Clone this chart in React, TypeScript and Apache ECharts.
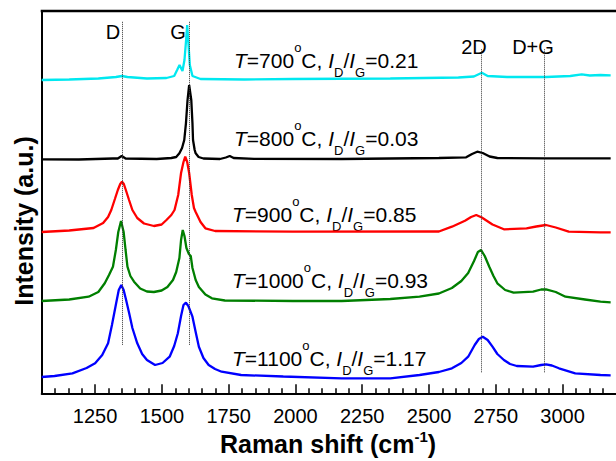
import React, { useEffect, useRef } from 'react';
import * as echarts from 'echarts';

const FF = 'Liberation Sans, Arial, sans-serif';

const xTicks = [1250, 1500, 1750, 2000, 2250, 2500, 2750, 3000];
const xMinorTicks = [1100, 1150, 1200, 1300, 1350, 1400, 1450, 1550, 1600, 1650, 1700, 1800, 1850, 1900, 1950, 2050, 2100, 2150, 2200, 2300, 2350, 2400, 2450, 2550, 2600, 2650, 2700, 2800, 2850, 2900, 2950, 3050, 3100, 3150];

const temperatures = [700, 800, 900, 1000, 1100];
const ratios = ['0.21', '0.03', '0.85', '0.93', '1.17'];
const colors = ['#00e8f0', '#000000', '#ff0000', '#007f00', '#0000ff'];

const bandNames = ['D', 'G', '2D', 'D+G'];
const bandPositions = [1350, 1603, 2697, 2933];

const s700 = [[1050,313.3],[1153,313.8],[1262,314.8],[1328,316.3],[1350,317.3],[1371,316.3],[1444,314.8],[1517,315.3],[1546,317.3],[1557,323.3],[1566,328.3],[1577,322.3],[1584.5,333.3],[1590,351.3],[1594.7,368.3],[1599,351.3],[1604.5,328.3],[1614.4,317.3],[1644.6,314.3],[1808.5,313.8],[1990.7,314.3],[2355,314.8],[2610,315.8],[2668,316.8],[2697.6,320.6],[2719.5,317.3],[2792.4,316.3],[2938,316.3],[3029,317.3],[3071.8,319],[3102,317.8],[3142,318.3],[3180,318]];

const s800 = [[1050,234],[1189,233.8],[1316.7,234.8],[1335,234.8],[1349.5,237.3],[1364,234.8],[1480.6,234.3],[1535.3,235.3],[1553.5,236.3],[1565.5,240],[1575.4,245.3],[1583.7,253.3],[1590,270],[1596,293.3],[1602,308.3],[1610,293.3],[1614.4,270],[1616.5,253.3],[1622.7,243.3],[1626.4,240],[1637.3,236.3],[1655.5,234.8],[1717.5,234.3],[1739.3,235.8],[1754,237.3],[1768.5,235.3],[1845,234.5],[2173,234.3],[2537,235.3],[2639,236],[2661,239.3],[2680.4,241.6],[2701,240.3],[2726.8,236.8],[2755.8,235.3],[2938,235],[3142,235],[3180,235]];

const s900 = [[1050,161.3],[1153,162.8],[1244,165.3],[1280,170.3],[1298.5,176.3],[1310.5,183.3],[1324,194.3],[1335,203.3],[1344,209.3],[1350.6,211.6],[1357.5,209.3],[1365,203.3],[1377,193.3],[1389.5,183.3],[1407.8,175.3],[1433,169.8],[1470,167.3],[1499,168.8],[1517,173.3],[1535.3,178.3],[1547.3,183.3],[1561,198.3],[1571.7,220.3],[1580.8,231.3],[1587.4,236.6],[1594.7,231.3],[1602,220.3],[1611.8,198.3],[1620,185.3],[1626.4,181.3],[1644.6,171.3],[1662.8,165],[1699,162.3],[1990.7,161.6],[2537,161.8],[2585.7,166.6],[2634.6,172.6],[2657.6,176.3],[2676.8,178.3],[2697.6,175.8],[2737.6,168.8],[2780.3,164],[2865,165],[2901.5,166.8],[2938,168.3],[2974.5,165.8],[3023,161.6],[3142,161],[3180,161]];

const s1000 = [[1050,92.3],[1153,93.8],[1225.6,96.6],[1262,101.3],[1286,110],[1302,118.3],[1316.7,126.6],[1327.6,143.3],[1336.7,161.3],[1347,172.3],[1356.8,161.3],[1364,143.3],[1371,126.6],[1382,117.3],[1395.7,111.6],[1418.7,104.8],[1444,101.8],[1470,101.3],[1499,102.8],[1520.7,106.3],[1541.5,113.3],[1553.5,121.3],[1565.5,135.3],[1571.7,153.3],[1578,163.3],[1584.5,157.3],[1591.8,145.3],[1601,139.3],[1608,137.3],[1614.4,125.3],[1626.4,113.3],[1638.4,106.3],[1662.8,98.8],[1687.2,95],[1735.7,92.8],[1990.7,92.3],[2173,92.3],[2355,94.3],[2464.4,96.6],[2537,99.8],[2585.7,105.3],[2621,112.3],[2646.6,120.3],[2668.5,132.3],[2683,141.3],[2695,143.3],[2708.5,137.3],[2725.6,126.6],[2741.3,117.3],[2755.8,110],[2785,103.3],[2816.7,100.6],[2889.6,101.6],[2919.8,103.8],[2938,104],[2974.5,101.3],[3010.9,96.6],[3083.8,93.8],[3142,91.6],[3180,91]];

const s1100 = [[1050,16.3],[1098,17.3],[1165,20],[1218,25.3],[1250,30],[1276.6,38.3],[1298.5,50],[1313,68.3],[1328.7,90],[1338.5,103.3],[1348,108.3],[1356.8,103.3],[1366,93.3],[1377.5,80],[1389.5,65.3],[1407.8,50],[1426,39.3],[1444,33.3],[1474.4,28.3],[1502.5,30.3],[1529,36.6],[1546,47.3],[1559.7,60],[1571.7,77.3],[1580.8,88.3],[1590,90.6],[1599,87.3],[1614.4,76.6],[1626.4,61.3],[1638.4,46.6],[1655.5,35.3],[1675,28.3],[1699,24.3],[1723.6,21.6],[1796.5,18.3],[1954.3,16.8],[2173,15],[2355,15],[2464.4,18.3],[2537,21.3],[2585.7,25],[2621,30.3],[2646.6,36.6],[2671,48.3],[2686.6,54.3],[2701.2,56.6],[2719.5,53.3],[2737.6,46.6],[2755.8,39.3],[2780.3,33.3],[2803.3,29.3],[2828.7,27.3],[2889.6,26.6],[2919.8,28.3],[2938,29],[2960,27.8],[2986.5,25],[3047.4,20],[3142,18.3],[3180,18]];

const spectra = [s700, s800, s900, s1000, s1100];

const X_MIN = 1050;
const X_MAX = 3200;
const Y_MAX = 382.3;

const annPos = [[234, 60], [234, 138], [232, 214], [232, 280], [232, 358]];
const bandLabelPos = [[113, 32], [178, 32], [474, 47], [533, 47]];

function buildOption() {
  const richAnn = {
    n: { fontSize: 21, fontFamily: FF, lineHeight: 38, fill: '#000' },
    i: { fontSize: 21, fontFamily: FF, fontStyle: 'italic', lineHeight: 38, fill: '#000' },
    sup: { fontSize: 13, fontFamily: FF, lineHeight: 26, verticalAlign: 'top', fill: '#000' },
    sub: { fontSize: 13, fontFamily: FF, lineHeight: 14, verticalAlign: 'bottom', fill: '#000' },
  };
  const graphics: any[] = [];
  // top edge of the plot frame
  graphics.push({
    type: 'line', silent: true, z: 100,
    shape: { x1: 40.7, y1: 11, x2: 620, y2: 11 },
    style: { stroke: '#000', lineWidth: 2.5 },
  });
  temperatures.forEach((t, k) => {
    graphics.push({
      type: 'text', x: annPos[k][0], y: annPos[k][1], silent: true,
      style: {
        text: `{i|T}{n|=${t}}{sup|o}{n|C, }{i|I}{sub|D}{n|/}{i|I}{sub|G}{n|=${ratios[k]}}`,
        fontSize: 21, fontFamily: FF, fill: '#000', align: 'left', verticalAlign: 'middle',
        rich: richAnn,
      },
    });
  });
  bandNames.forEach((b, k) => {
    graphics.push({
      type: 'text', x: bandLabelPos[k][0], y: bandLabelPos[k][1], silent: true,
      style: { text: b, fontSize: 20, fontFamily: FF, fill: '#000', align: 'center', verticalAlign: 'middle' },
    });
  });
  graphics.push({
    type: 'text', x: 24, y: 221, rotation: Math.PI / 2, silent: true,
    style: { text: 'Intensity (a.u.)', fontSize: 25, fontWeight: 'bold', fontFamily: FF, fill: '#000', align: 'center', verticalAlign: 'middle' },
  });
  graphics.push({
    type: 'text', x: 328, y: 444, silent: true,
    style: {
      text: '{b|Raman shift (cm}{s|-1}{b|)}',
      fontSize: 25, fontWeight: 'bold', fontFamily: FF, fill: '#000', align: 'center', verticalAlign: 'middle',
      rich: {
        b: { fontSize: 25, fontWeight: 'bold', fontFamily: FF, lineHeight: 30, fill: '#000' },
        s: { fontSize: 15, fontWeight: 'bold', fontFamily: FF, lineHeight: 16, verticalAlign: 'top', fill: '#000' },
      },
    },
  });

  const series: any[] = spectra.map((d, k) => ({
    type: 'line',
    name: `${temperatures[k]}`,
    data: d,
    showSymbol: false,
    symbol: 'none',
    silent: true,
    lineStyle: { color: colors[k], width: 2.3 },
    z: 3,
  }));
  series.push({
    type: 'line',
    data: [],
    silent: true,
    z: 2,
    markLine: {
      silent: true,
      symbol: ['none', 'none'],
      label: { show: false },
      lineStyle: { color: '#333', width: 1, type: [1, 1] },
      data: bandPositions.map((p, k) => [
        { coord: [p, k < 2 ? 371.5 : 344] },
        { coord: [p, k < 2 ? 48.5 : 20.5] },
      ]),
    },
  });

  const fmt = (v: number) => String(v);

  return {
    animation: false,
    grid: { left: 41.7, right: -15.9, top: 11, bottom: 67.7, containLabel: false },
    xAxis: [
      {
        type: 'value', min: X_MIN, max: X_MAX, position: 'bottom',
        axisLine: { show: true, onZero: false, lineStyle: { color: '#000', width: 2 } },
        axisTick: { show: true, inside: true, length: 9, customValues: xTicks, lineStyle: { color: '#000', width: 1.5 } },
        axisLabel: { show: true, customValues: xTicks, formatter: fmt, fontSize: 20, fontFamily: FF, color: '#000', margin: 13 },
        splitLine: { show: false },
      },
      {
        type: 'value', min: X_MIN, max: X_MAX, position: 'bottom', gridIndex: 0,
        axisLine: { show: false, onZero: false },
        axisTick: { show: true, inside: true, length: 5, customValues: xMinorTicks, lineStyle: { color: '#000', width: 1.5 } },
        axisLabel: { show: false },
        splitLine: { show: false },
      },
    ],
    yAxis: {
      type: 'value', min: 0, max: Y_MAX,
      axisLine: { show: true, onZero: false, lineStyle: { color: '#000', width: 2 } },
      axisTick: { show: false },
      axisLabel: { show: false },
      splitLine: { show: false },
    },
    graphic: { elements: graphics },
    series,
  };
}

export default function App() {
  const ref = useRef<HTMLDivElement>(null);
  useEffect(() => {
    if (!ref.current) return;
    const chart = echarts.init(ref.current, null, { renderer: 'svg' });
    chart.setOption(buildOption() as any);
    return () => chart.dispose();
  }, []);
  return (
    <div
      ref={ref}
      style={{ position: 'fixed', left: 0, top: 0, width: 616, height: 461, background: '#fff' }}
    />
  );
}
